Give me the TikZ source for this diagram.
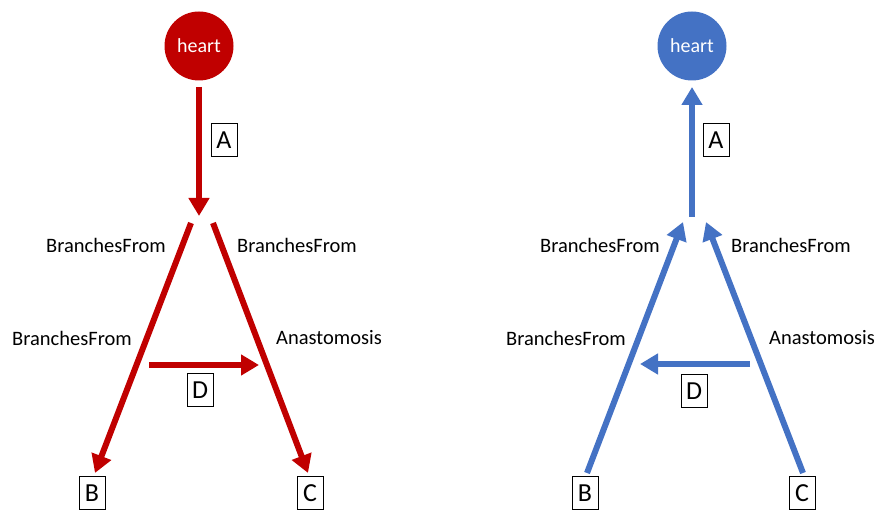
\documentclass[tikz,border=0pt]{standalone}
\usepackage{fontspec}
\setmainfont{Carlito}
\usetikzlibrary{arrows.meta}
\definecolor{myred}{HTML}{C00000}
\definecolor{myblue}{HTML}{4472C4}
\begin{document}
\begin{tikzpicture}[x=1pt,y=-1pt,
  heartnode/.style={circle,minimum size=69pt,inner sep=0pt,text=white,font=\fontsize{20}{24}\selectfont},
  letterbox/.style={draw=black,line width=0.8pt,minimum width=26pt,minimum height=33pt,inner sep=0pt,font=\fontsize{26}{30}\selectfont},
  lbl/.style={font=\fontsize{20.5}{24}\selectfont,inner sep=0pt},
  conn/.style={line width=6pt,-{Triangle[width=20pt,length=18pt]}},
  plain/.style={line width=6pt}]
\useasboundingbox (0,0) rectangle (877,510);
% ---------- left (red) ----------
\node[heartnode,fill=myred] (h1) at (199,46) {heart};
\coordinate (a1s) at (199,87);
\coordinate (a1e) at (199,216);
\draw[conn,myred] (a1s) -- (a1e);
\node[letterbox] (A1) at (224,140) {A};
\coordinate (l1s) at (191,223);
\coordinate (r1s) at (213,223);
\node[letterbox] (B1) at (92,493) {B};
\node[letterbox] (C1) at (310,493) {C};
\coordinate (l1e) at (95,473);
\coordinate (r1e) at (308,473);
\draw[conn,myred] (l1s) -- (l1e);
\draw[conn,myred] (r1s) -- (r1e);
\coordinate (d1s) at (149,365);
\coordinate (d1e) at (259,365);
\draw[conn,myred] (d1s) -- (d1e);
\node[letterbox] (D1) at (200,390) {D};
\node[lbl] (t1) at (106,245) {BranchesFrom};
\node[lbl] (t2) at (297,245) {BranchesFrom};
\node[lbl] (t3) at (72,338) {BranchesFrom};
\node[lbl] (t4) at (329,338) {Anastomosis};
% ---------- right (blue) ----------
\node[heartnode,fill=myblue] (h2) at (692,46) {heart};
\coordinate (a2s) at (692,217);
\coordinate (a2e) at (692,87);
\draw[conn,myblue] (a2s) -- (a2e);
\node[letterbox] (A2) at (716,140) {A};
\node[letterbox] (B2) at (585,493) {B};
\node[letterbox] (C2) at (802,493) {C};
\coordinate (l2s) at (587,473);
\coordinate (l2e) at (683,222);
\coordinate (r2s) at (803,473);
\coordinate (r2e) at (706,222);
\draw[conn,myblue] (l2s) -- (l2e);
\draw[conn,myblue] (r2s) -- (r2e);
\coordinate (d2s) at (750,364);
\coordinate (d2e) at (640,364);
\draw[conn,myblue] (d2s) -- (d2e);
\node[letterbox] (D2) at (694,391) {D};
\node[lbl] (u1) at (600,245) {BranchesFrom};
\node[lbl] (u2) at (791,245) {BranchesFrom};
\node[lbl] (u3) at (566,338) {BranchesFrom};
\node[lbl] (u4) at (822,338) {Anastomosis};
\end{tikzpicture}
\end{document}
